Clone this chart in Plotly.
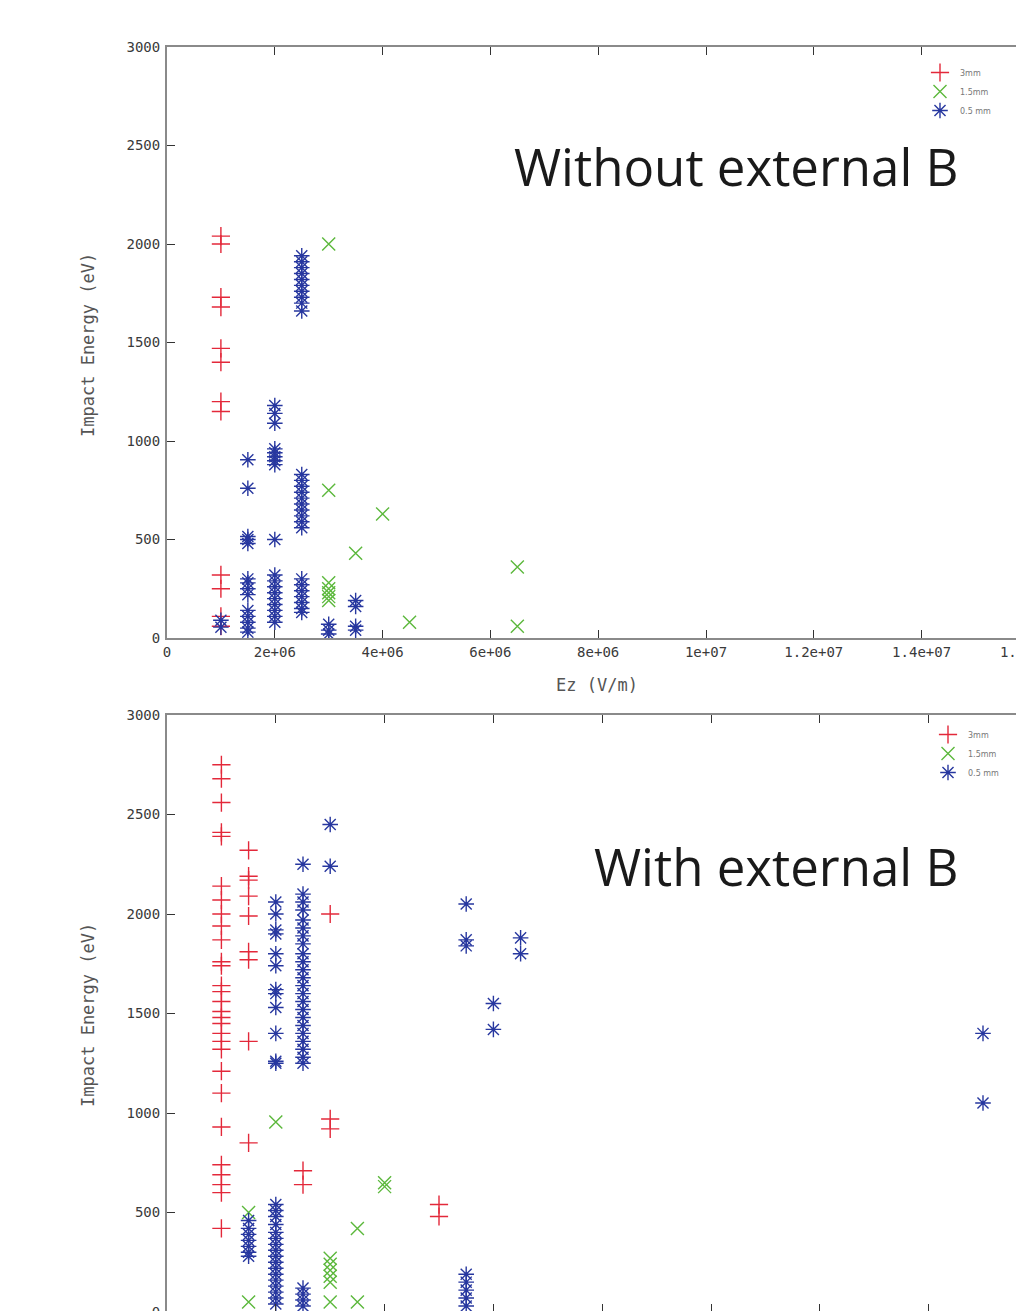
import plotly.graph_objects as go

# ---------------- data ----------------
series_names = ["3mm", "1.5mm", "0.5 mm"]
series_colors = ["#e3283a", "#5cb83c", "#27379f"]
series_symbols = ["cross-thin-open", "x-thin-open", "asterisk-open"]

# Top panel: without external B
top_red_ez = [1.0e6]
top_red_energy = [[2040, 2000, 1730, 1680, 1470, 1400, 1200, 1150, 320, 250, 110, 60]]

top_green_ez = [3.0e6, 3.5e6, 4.0e6, 4.5e6, 6.5e6]
top_green_energy = [[2000, 750, 280, 250, 230, 210, 190], [430], [630], [80], [360, 60]]

top_blue_ez = [1.0e6, 1.5e6, 2.0e6, 2.5e6, 3.0e6, 3.5e6]
top_blue_energy = [
    [90, 55],
    [905, 760, 515, 500, 480, 300, 280, 250, 220, 140, 110, 80, 50, 30],
    [1180, 1140, 1090, 960, 940, 920, 900, 880, 500, 320, 290, 260, 230, 200, 170, 140, 110, 80],
    [1940, 1910, 1880, 1850, 1820, 1790, 1760, 1730, 1700, 1660, 830, 800, 770, 740, 710, 680,
     650, 620, 590, 560, 300, 270, 240, 210, 180, 150, 130],
    [70, 40, 20],
    [190, 160, 60, 40],
]

# Bottom panel: with external B
bot_red_ez = [1.0e6, 1.5e6, 2.5e6, 3.0e6, 5.0e6]
bot_red_energy = [
    [2750, 2680, 2560, 2410, 2390, 2140, 2070, 2000, 1940, 1870, 1760, 1740, 1640, 1610, 1560,
     1510, 1480, 1450, 1400, 1360, 1320, 1210, 1100, 930, 740, 690, 640, 600, 420],
    [2320, 2190, 2170, 2090, 1990, 1810, 1770, 1360, 850],
    [710, 640],
    [2000, 970, 920],
    [540, 480],
]

bot_green_ez = [1.5e6, 2.0e6, 3.0e6, 3.5e6, 4.0e6]
bot_green_energy = [[500, 50], [955], [270, 240, 210, 180, 150, 50], [420, 50], [650, 630]]

bot_blue_ez = [1.5e6, 2.0e6, 2.5e6, 3.0e6, 5.5e6, 6.0e6, 6.5e6, 1.5e7]
bot_blue_energy = [
    [460, 420, 390, 360, 330, 300, 280],
    [2060, 2000, 1920, 1900, 1800, 1740, 1620, 1600, 1530, 1400, 1260, 1250, 540, 510, 480, 440,
     400, 370, 340, 310, 280, 250, 220, 190, 160, 130, 100, 70, 40],
    [2250, 2100, 2060, 2020, 1970, 1930, 1890, 1850, 1800, 1760, 1720, 1680, 1640, 1600, 1560,
     1520, 1480, 1440, 1400, 1360, 1320, 1280, 1250, 120, 90, 60, 30],
    [2450, 2240],
    [2050, 1870, 1840, 190, 150, 110, 70, 30],
    [1550, 1420],
    [1880, 1800],
    [1400, 1050],
]

x_tick_vals = [0, 2e6, 4e6, 6e6, 8e6, 1e7, 1.2e7, 1.4e7, 1.6e7]
x_tick_text = ["0", "2e+06", "4e+06", "6e+06", "8e+06", "1e+07", "1.2e+07", "1.4e+07", "1.6e+07"]
y_tick_vals = [0, 500, 1000, 1500, 2000, 2500, 3000]
y_tick_text = ["0", "500", "1000", "1500", "2000", "2500", "3000"]

titles = ["Without external B", "With external B"]
x_title = "Ez (V/m)"
y_title = "Impact Energy (eV)"


def expand(groups_x, groups_y):
    xs, ys = [], []
    for gx, gy in zip(groups_x, groups_y):
        for v in gy:
            xs.append(gx)
            ys.append(v)
    return xs, ys


# ---------------- layout geometry ----------------
# The page body has an 8px default margin, so the figure is drawn shifted by 8px;
# it is made a little larger than the window so the right and bottom edges are cropped.
OFF = 8
W, H = 1045, 1330


def px(rx):
    return (rx - OFF) / W


def py(ry):
    return 1 - (ry - OFF) / H


left_ref, right_ref = 167, 1030
top_x_range = [0, (right_ref - left_ref) / 53.9 * 1e6]
bot_x_range = [0, (right_ref - left_ref) / 54.4 * 1e6]
dom_x = [px(left_ref), px(right_ref)]
top_dom_y = [py(638), py(47)]
bot_dom_y = [py(1312), py(715)]

fig = go.Figure()

panels = [
    ("x", "y", "legend",
     [(top_red_ez, top_red_energy), (top_green_ez, top_green_energy), (top_blue_ez, top_blue_energy)]),
    ("x2", "y2", "legend2",
     [(bot_red_ez, bot_red_energy), (bot_green_ez, bot_green_energy), (bot_blue_ez, bot_blue_energy)]),
]

for xa, ya, lg, groups in panels:
    for i, (gx, gy) in enumerate(groups):
        xs, ys = expand(gx, gy)
        fig.add_trace(go.Scatter(
            x=xs, y=ys, mode="markers", name=series_names[i],
            xaxis=xa, yaxis=ya, legend=lg,
            marker=dict(symbol=series_symbols[i], size=13, color=series_colors[i],
                        line=dict(width=1.4, color=series_colors[i])),
        ))

tick_font = dict(family="DejaVu Sans Mono", size=14, color="#3a3a3a")
axis_common = dict(showgrid=False, zeroline=False, showline=True, linecolor="#8a8a8a",
                   linewidth=2, ticks="inside", ticklen=8, tickwidth=1, tickcolor="#333",
                   tickfont=tick_font, automargin=False)

fig.update_layout(
    width=W, height=H, margin=dict(l=0, r=0, t=0, b=0, pad=0, autoexpand=False),
    paper_bgcolor="white", plot_bgcolor="white", showlegend=True,
    xaxis=dict(domain=dom_x, range=top_x_range, anchor="y", mirror="ticks",
               tickvals=x_tick_vals, ticktext=x_tick_text, ticklabeloverflow="allow",
               **axis_common),
    yaxis=dict(domain=top_dom_y, range=[0, 3000], anchor="x", mirror="ticks",
               tickvals=y_tick_vals, ticktext=y_tick_text, ticklabelstandoff=2, **axis_common),
    xaxis2=dict(domain=dom_x, range=bot_x_range, anchor="y2", mirror="ticks",
                tickvals=x_tick_vals, ticktext=x_tick_text, showticklabels=False,
                **axis_common),
    yaxis2=dict(domain=bot_dom_y, range=[0, 3000], anchor="x2", mirror="ticks",
                tickvals=y_tick_vals, ticktext=y_tick_text, ticklabelstandoff=2,
                ticklabeloverflow="allow", **axis_common),
    legend=dict(x=px(920), y=py(58), xanchor="left", yanchor="top",
                font=dict(family="DejaVu Sans", size=8, color="#777"),
                bgcolor="rgba(0,0,0,0)", tracegroupgap=0, itemwidth=30),
    legend2=dict(x=px(928), y=py(720), xanchor="left", yanchor="top",
                 font=dict(family="DejaVu Sans", size=8, color="#777"),
                 bgcolor="rgba(0,0,0,0)", tracegroupgap=0, itemwidth=30),
)

# panel titles
title_font = dict(family="Open Sans", size=51, color="#1a1a1a")
fig.add_annotation(x=px(960), y=py(166), xref="paper", yref="paper", text=titles[0],
                   showarrow=False, xanchor="right", yanchor="middle", font=title_font)
fig.add_annotation(x=px(960), y=py(866), xref="paper", yref="paper", text=titles[1],
                   showarrow=False, xanchor="right", yanchor="middle", font=title_font)

# axis titles
label_font = dict(family="DejaVu Sans Mono", size=17, color="#555")
fig.add_annotation(x=px(597), y=py(685), xref="paper", yref="paper", text=x_title,
                   showarrow=False, xanchor="center", yanchor="middle", font=label_font)
fig.add_annotation(x=px(88), y=py(345), xref="paper", yref="paper", text=y_title,
                   showarrow=False, textangle=-90, xanchor="center", yanchor="middle",
                   font=label_font)
fig.add_annotation(x=px(88), y=py(1015), xref="paper", yref="paper", text=y_title,
                   showarrow=False, textangle=-90, xanchor="center", yanchor="middle",
                   font=label_font)

fig.write_html("out.html")
